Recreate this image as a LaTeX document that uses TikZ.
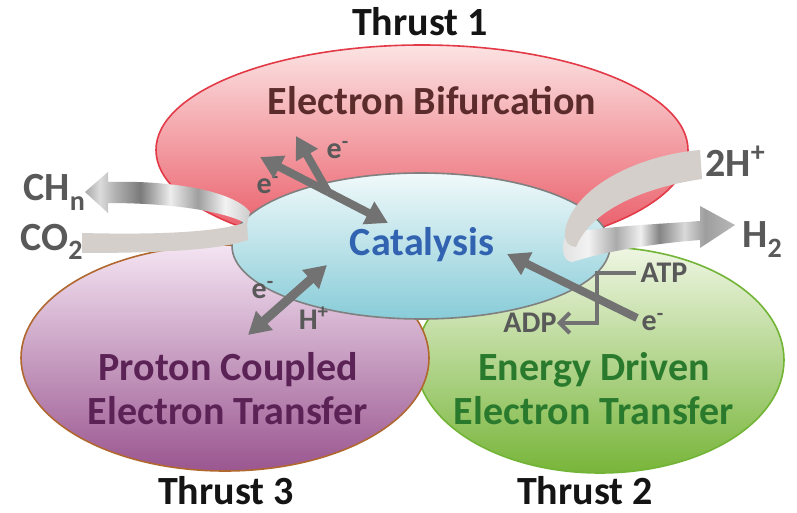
\documentclass[tikz,border=0pt]{standalone}
\usepackage{fontspec}
\setmainfont{Carlito}
\usetikzlibrary{arrows.meta}

\definecolor{labelgray}{HTML}{595959}
\definecolor{arrowgray}{HTML}{727272}
\definecolor{ribbongray}{HTML}{D4CFCB}
\definecolor{thrustblack}{HTML}{141414}
\definecolor{bifbrown}{HTML}{5C2B2B}
\definecolor{catblue}{HTML}{3263B0}
\definecolor{pcetpurple}{HTML}{5B2256}
\definecolor{edetgreen}{HTML}{2A7A2E}
\definecolor{redtop}{HTML}{FCE3E3}
\definecolor{redbot}{HTML}{E84F5C}
\definecolor{redline}{HTML}{E33A48}
\definecolor{cyantop}{HTML}{F0F9FA}
\definecolor{cyanbot}{HTML}{88CCD8}
\definecolor{purptop}{HTML}{F4E4F2}
\definecolor{purpmid}{HTML}{AC719F}
\definecolor{purpbot}{HTML}{9A5690}
\definecolor{purpline}{HTML}{B0682E}
\definecolor{greentop}{HTML}{EFF6E3}
\definecolor{greenmid}{HTML}{A9D170}
\definecolor{greenbot}{HTML}{78B53A}
\definecolor{greenline}{HTML}{72B436}

\pgfdeclarehorizontalshading{metalL}{100bp}{color(0bp)=(black!34); color(25bp)=(black!34);
  color(29.5bp)=(black!14); color(34bp)=(black!30); color(41.7bp)=(black!52);
  color(50.8bp)=(black!7); color(59.2bp)=(black!38); color(67.4bp)=(black!5);
  color(75bp)=(black!20); color(100bp)=(black!20)}
\pgfdeclarehorizontalshading{metalR}{100bp}{color(0bp)=(black!12); color(25bp)=(black!12);
  color(33bp)=(black!5); color(41bp)=(black!33); color(48bp)=(black!6);
  color(53.3bp)=(black!48); color(60.5bp)=(black!15); color(66.3bp)=(black!38);
  color(75bp)=(black!28); color(100bp)=(black!28)}

\newcommand{\lowsub}[1]{\raisebox{-0.5ex}{\fontsize{14}{14}\selectfont #1}}

\begin{document}
\begin{tikzpicture}[x=0.5pt,y=-0.5pt,
  every node/.style={inner sep=0pt},
  bigtext/.style={font=\fontsize{20}{22}\selectfont\bfseries, align=center},
  chem/.style={font=\fontsize{20}{22}\selectfont\bfseries, text=labelgray},
  small/.style={font=\fontsize{15}{18}\selectfont\bfseries, text=labelgray},
  garrow/.style={draw=arrowgray, line width=4pt, -{Triangle[length=11pt,width=12pt]}},
  ptline/.style={draw=arrowgray, line width=2pt, -{Straight Barb[length=5pt,width=10pt]}}]

  \fill[white] (0,0) rectangle (797,513);
  \useasboundingbox (0,0) rectangle (797,513);

  %Ellipses
  %Thrust 2
  \shade[top color=greentop, middle color=greenmid, bottom color=greenbot]
    (600,360) ellipse [x radius=92pt, y radius=56.5pt];
  \draw[greenline, line width=0.8pt] (600,360) ellipse [x radius=92pt, y radius=56.5pt];
  %Thrust 3
  \shade[top color=purptop, middle color=purpmid, bottom color=purpbot]
    (225,358) ellipse [x radius=102pt, y radius=56.5pt];
  \draw[purpline, line width=0.8pt] (225,358) ellipse [x radius=102pt, y radius=56.5pt];
  %Thrust 1
  \shade[top color=redtop, bottom color=redbot]
    (422,150) ellipse [x radius=133pt, y radius=52.5pt];
  \draw[redline, line width=0.8pt] (422,150) ellipse [x radius=133pt, y radius=52.5pt];
  %Catalysis
  \shade[top color=cyantop, bottom color=cyanbot]
    (421,246) ellipse [x radius=94.5pt, y radius=36.5pt];
  \draw[gray, line width=0.8pt] (421,246) ellipse [x radius=94.5pt, y radius=36.5pt];

  %Ribbons
  %left
  \shade[shading=metalL] (85,192) -- (108,172) -- (108,182)
    .. controls (175,180) and (235,192) .. (250,212) -- (247,224)
    .. controls (225,211) and (170,203) .. (108,203) -- (108,213) -- cycle;
  \fill[ribbongray] (82,233) .. controls (160,235) and (220,232) .. (247,222)
    -- (248,240) .. controls (220,250) and (160,253) .. (82,253) -- cycle;
  %right
  \shade[shading=metalR] (568,233) .. controls (610,226) and (660,224) .. (700,221)
    -- (700,206) -- (735,225) -- (700,248) -- (700,240)
    .. controls (660,243) and (610,250) .. (572,262)
    .. controls (561,262) and (560,240) .. (568,233) -- cycle;
  \fill[ribbongray] (700,150) .. controls (640,155) and (578,185) .. (566,226)
    .. controls (563,238) and (566,246) .. (576,247)
    .. controls (590,212) and (640,188) .. (702,179) -- cycle;

  %Texts
  \node[bigtext, text=thrustblack] (thrust1) at (420,22) {Thrust 1};
  \node[bigtext, text=thrustblack] (thrust3) at (226,491) {Thrust 3};
  \node[bigtext, text=thrustblack] (thrust2) at (585,491) {Thrust 2};
  \node[bigtext, text=bifbrown] (bif) at (432,101) {Electron Bifurcation};
  \node[bigtext, text=catblue] (cat) at (422,245) {Catalysis};
  \node[bigtext, text=pcetpurple] (pcet) at (228,389) {Proton Coupled\\Electron Transfer};
  \node[bigtext, text=edetgreen] (edet) at (594,389) {Energy Driven\\Electron Transfer};

  \node[chem, anchor=base west] (chn) at (23,201) {CH\lowsub{n}};
  \node[chem, anchor=base west] (co) at (20,250) {CO\lowsub{2}};
  \node[chem, anchor=base west] (twoh) at (705,177) {2H\textsuperscript{+}};
  \node[chem, anchor=base west] (htwo) at (742,248) {H\lowsub{2}};

  \node[small] (ebl) at (268,185) {e\textsuperscript{-}};
  \node[small] (ebu) at (338,150) {e\textsuperscript{-}};
  \node[small] (ep) at (263,290) {e\textsuperscript{-}};
  \node[small] (hp) at (314,318) {H\textsuperscript{+}};
  \node[small] (atp) at (664,273) {ATP};
  \node[small] (adp) at (530,323) {ADP};
  \node[small] (ee) at (653,322) {e\textsuperscript{-}};

  %Edges
  \coordinate (bifjoin) at (328,192);
  \coordinate (bifcat) at (388,223);
  \coordinate (bifleft) at (260,157);
  \coordinate (bifup) at (296,136);
  \draw[garrow] (bifjoin) -- (bifcat);
  \draw[garrow] (bifjoin) -- (bifleft);
  \draw[garrow] (bifjoin) -- (bifup);

  \coordinate (pcettop) at (327,265);
  \coordinate (pcetbot) at (248,335);
  \draw[garrow, line width=4.5pt, {Triangle[length=11pt,width=12pt]}-{Triangle[length=11pt,width=12pt]}] (pcetbot) -- (pcettop);

  \coordinate (entail) at (637,318);
  \coordinate (entip) at (507,254);
  \draw[garrow] (entail) -- (entip);

  \draw[ptline] (atp.west) ++(-4,0) -- (597,273) |- (adp.east);

\end{tikzpicture}
\end{document}
